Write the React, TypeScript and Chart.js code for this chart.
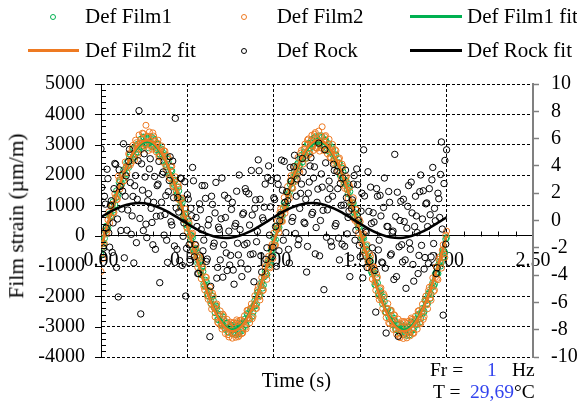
import React, { useEffect, useRef } from 'react';
import { Chart, registerables } from 'chart.js';

Chart.register(...registerables);

// ---- data (strain in µm/m, time in s) ----
const SAMPLE_INTERVAL_S = 0.005; // acquisition interval of the measured series
const FIT_INTERVAL_S = 0.05; // interval of the fitted curve samples

const defFilm1: number[] = [
  -620, -182, -380, -257, -90, 157, 310, 202, 260, 675, 720, 636, 650, 995, 1120, 850, 1010, 1251, 1480, 1287,
  1390, 1748, 1820, 1673, 1700, 1990, 2150, 1900, 2030, 2242, 2410, 2315, 2250, 2590, 2690, 2464, 2540, 2868, 2880, 2582,
  2700, 2955, 3010, 2757, 2850, 3037, 3180, 2935, 2960, 3252, 3240, 3046, 3010, 3228, 3190, 2898, 3050, 3106, 3260, 2942,
  2930, 3195, 3150, 2907, 2840, 3007, 3020, 2695, 2690, 2812, 2860, 2658, 2480, 2704, 2640, 2350, 2280, 2525, 2420, 2012,
  1990, 2160, 2130, 1740, 1690, 1803, 1830, 1488, 1350, 1597, 1480, 1191, 990, 1180, 1100, 665, 620, 696, 730, 365,
  240, 462, 330, 27, -140, -7, -60, -442, -520, -435, -430, -686, -920, -725, -820, -1150, -1290, -1031, -1180, -1587,
  -1650, -1468, -1520, -1903, -1980, -1840, -1840, -2140, -2270, -2002, -2130, -2365, -2540, -2320, -2380, -2764, -2760, -2648, -2590, -2882,
  -2950, -2675, -2770, -2987, -3090, -2887, -2880, -3175, -3180, -3012, -2960, -3096, -3230, -2958, -3010, -3198, -3270, -2886, -2990, -3242,
  -3170, -2915, -2890, -3137, -3080, -2857, -2760, -2935, -2950, -2572, -2600, -2708, -2760, -2434, -2390, -2650, -2520, -2305, -2140, -2312,
  -2260, -1880, -1850, -1970, -1960, -1653, -1530, -1728, -1630, -1357, -1190, -1241, -1280, -910, -820, -965, -900, -476, -450, -665,
  -70, -227, -130, 177, 330, 252, 270, 645, 710, 486, 660, 895, 1090, 950, 1030, 1441, 1460, 1347, 1420, 1698,
  1800, 1573, 1740, 1940, 2110, 1970, 2060, 2342, 2390, 2305, 2310, 2550, 2650, 2424, 2560, 2738, 2860, 2552, 2750, 3025,
  3030, 2787, 2900, 3057, 3170, 2985, 3010, 3222, 3260, 2896, 3080, 3128, 3290, 2998, 3060, 3296, 3240, 3002, 2980, 3145,
  3160, 2807, 2870, 2957, 3030, 2765, 2720, 2912, 2850, 2648, 2510, 2664, 2660, 2310, 2290, 2395, 2400, 1982, 2010, 2230,
  2110, 1770, 1720, 1823, 1790, 1538, 1380, 1567, 1450, 1041, 1020, 1080, 1070, 765, 650, 886, 700, 425, 270, 412,
  300, -73, -110, -57, -90, -372, -490, -335, -460, -696, -890, -765, -850, -1190, -1260, -1161, -1220, -1617, -1620, -1398,
  -1560, -1873, -1950, -1820, -1880, -2090, -2250, -2032, -2170, -2515, -2530, -2420, -2420, -2664, -2740, -2458, -2630, -2822, -2940, -2725,
  -2810, -3087, -3100, -2937, -2920, -3105, -3210, -2912, -3000, -3106, -3260, -2998, -3030, -3238, -3290, -3016, -3010, -3272, -3190, -2845,
  -2900, -3107, -3060, -2837, -2780, -2885, -2930, -2602, -2610, -2858, -2740, -2534, -2400, -2550, -2500, -2115, -2150, -2252, -2240, -1930,
  -1870, -2070, -1930, -1703, -1550, -1658, -1600, -1257, -1210, -1251, -1250, -950, -850, -1005, -880, -606, -470, -695, -560, -112,
  -60,
];

const defFilm2: number[] = [
  -1180, -72, -750, -347, -260, 187, 80, 112, 520, 785, 420, 616, 980, 1035, 760, 760, 1380, 1271, 1190, 1197,
  1960, 1838, 1540, 1623, 2010, 2040, 1800, 1810, 2430, 2272, 2080, 2295, 2700, 2680, 2330, 2404, 2870, 2978, 2590, 2492,
  3150, 3065, 2720, 2667, 3320, 3067, 3050, 2845, 3380, 3362, 2960, 3026, 3640, 3268, 3280, 2808, 3420, 3126, 2950, 2852,
  3390, 3285, 3130, 2857, 2760, 3057, 3150, 2605, 2620, 2842, 2960, 2638, 2420, 2794, 2790, 2290, 2170, 2635, 2550, 1922,
  1880, 2270, 2290, 1650, 1610, 1833, 1940, 1398, 1230, 1707, 1610, 1171, 930, 1220, 1240, 575, 520, 716, 880, 275,
  130, 552, 420, -23, -260, 43, 80, -532, -640, -405, -320, -706, -1050, -635, -700, -1210, -1420, -921, -1050, -1677,
  -1790, -1358, -1380, -1993, -2100, -1810, -1700, -2230, -2420, -1892, -1990, -2385, -2680, -2280, -2250, -2854, -2890, -2628, -2480, -2972,
  -3080, -2585, -2640, -3037, -3230, -2837, -2760, -3265, -3340, -2982, -2850, -3116, -3380, -2868, -2880, -3258, -3350, -2776, -2830, -3332,
  -3290, -2805, -2780, -3227, -3210, -2827, -2640, -3025, -3070, -2462, -2460, -2728, -2880, -2394, -2250, -2740, -2660, -2285, -1980, -2402,
  -2400, -1790, -1690, -2020, -2120, -1603, -1380, -1818, -1790, -1327, -1020, -1261, -1440, -820, -680, -1025, -1060, -366, -290, -755,
  90, -337, -310, 247, 480, 222, 110, 765, 890, 476, 470, 925, 1260, 740, 880, 1421, 1620, 1317, 1230, 1818,
  1980, 1593, 1560, 2010, 2290, 1790, 1850, 2222, 2580, 2145, 2090, 2720, 2810, 2524, 2360, 2868, 3020, 2642, 2550, 3155,
  3190, 2677, 2700, 3127, 3310, 2955, 2810, 3342, 3400, 2886, 2880, 3158, 3450, 2788, 2900, 3276, 3590, 2972, 2810, 3265,
  3300, 2827, 2700, 3027, 3180, 2585, 2560, 2792, 3010, 2488, 2380, 2834, 2800, 2410, 2120, 2525, 2560, 2072, 1870, 2360,
  2280, 1660, 1560, 1893, 1950, 1508, 1240, 1687, 1600, 1031, 860, 1110, 1250, 555, 500, 866, 850, 395, 90, 532,
  460, -53, -270, 13, 60, -552, -650, -455, -300, -856, -1060, -595, -680, -1090, -1430, -1031, -1030, -1527, -1800, -1268,
  -1370, -1983, -2110, -1750, -1720, -2120, -2400, -1912, -1980, -2525, -2700, -2390, -2240, -2874, -2900, -2478, -2460, -2852, -3090, -2605,
  -2630, -3067, -3250, -2867, -2750, -3285, -3360, -3032, -2830, -3266, -3390, -2828, -2860, -3138, -3370, -2886, -2820, -3182, -3300, -2715,
  -2760, -3217, -3220, -2767, -2650, -2915, -3080, -2482, -2470, -2868, -2900, -2504, -2260, -2760, -2670, -2135, -1990, -2282, -2410, -1810,
  -1700, -2050, -2130, -1633, -1390, -1838, -1800, -1377, -1030, -1411, -1450, -780, -700, -905, -1070, -476, -300, -605, -720, 18,
  150,
];

const defRock: number[] = [
  2860, 1590, -620, -410, 1300, 1040, 250, 2190, 1880, 90, -380, 1000, 1150, -550, 420, 1550, 2380, 2350, -1050, 550,
  -2020, 2170, 1620, 170, 880, 1470, 3030, -730, 1300, 1970, 180, 845, 2450, 2845, 1750, 45, 650, 1295, -900, 1645,
  1980, -232, 1200, 2468, 4120, 568, -2580, 2368, 1500, 168, 2700, 1935, 380, -65, 1150, 1385, 2200, 2535, 900, 435,
  -300, 1100, 1950, -450, 640, 1650, 1700, 2450, -1550, 650, 1100, 2020, 2100, 20, 700, 1320, -150, -880, 1450, 1820,
  2600, 460, 350, 2460, 1250, -340, 3870, 910, -450, 1260, 780, -820, 1900, 1880, -980, -20, 420, 1780, -1990, -420,
  1350, 1208, -300, -792, 900, 658, 2250, 1808, -700, -292, 600, 302, -1250, -1248, 1050, 852, 200, 1652, -500, -148,
  1650, 1230, -850, -770, 350, 530, -3330, -1670, 1300, 1030, -350, -245, 750, 1755, -1400, -1045, 280, 205, -800, 555,
  1900, -1368, -300, 1332, 600, -568, -1150, 1232, 150, -968, -650, 865, 1100, -1135, -1600, 315, 400, 1465, -250, -635,
  2000, 200, -900, -1350, 700, 750, -300, 1550, 1450, -250, -1100, 1380, 350, -620, 2150, 680, -600, -1520, 900, 1180,
  -200, 140, 2500, 2140, 1200, -660, -1200, 590, 500, 940, 1700, -782, -400, 1918, 2300, 18, 950, 1818, -700, -382,
  1250, 1190, 300, -1010, 1900, 1690, -500, 490, 700, 2490, 1500, -150, 2450, 1100, 100, 1450, 1150, -450, -900, 2250,
  1800, 470, 600, 2270, 2650, 70, 1300, 1870, -300, -130, 900, 1395, 1700, 2545, 2100, 445, 400, 1195, -1200, -355,
  1400, 1768, 2300, 2568, 700, 768, 1900, 2268, -600, 268, 1100, 1535, 3050, -665, 500, 2035, 1600, 835, -1780, 2835,
  2400, -50, 850, 1200, 1800, 1550, -200, -350, 1300, 2350, 2150, 320, 400, 2120, 1550, -80, -800, 1720, 1000, -280,
  1900, 1010, -350, 2160, 1250, 60, 600, 810, -1350, -740, 900, 1180, 1700, 1980, -150, 180, 2200, 1680, 500, -320,
  -700, 808, 1400, -1392, 2830, 1308, 150, 108, -1050, 2108, 800, -848, 1600, 402, -400, 752, 450, -1148, -2520, 1552,
  1300, -470, -150, 1330, 650, -870, -900, 930, 1900, -1070, -3210, 305, 300, 1455, 1100, -645, -600, 105, 150, -1445,
  2680, 632, -1350, 1432, -3320, -368, 500, 1132, -300, -868, 1200, 465, -800, -1735, 250, 965, 1650, -235, -450, 1765,
  750, -950, -1500, 300, 1300, 650, 100, -1250, -650, 1450, 2000, -320, 550, 1480, -1100, -720, 1050, 1080, 300, -920,
  1550, 690, -700, 1840, 2250, -260, 900, 490, -1250, -1060, 1400, 1218, 600, 2018, 3090, 218, -2620, 1718, 2480, -282,
  2830,
];

const defFilm1Fit: number[] = [
  -392, 586, 1507, 2278, 2821, 3081, 3034, 2685, 2067, 1242,
  296, -682, -1592, -2345, -2860, -3090, -3013, -2635, -1993, -1151,
  -195, 586, 1675, 2405, 2896, 3097, 2989, 2582, 1917, 1060,
  97, -875, -1755, -2465, -2930, -3100, -2960, -2524, -1840, -968,
  0,
];

const defFilm2Fit: number[] = [
  -398, 595, 1531, 2315, 2866, 3130, 3083, 2728, 2100, 1262,
  301, -693, -1618, -2383, -2906, -3140, -3061, -2677, -2025, -1170,
  -198, 595, 1702, 2444, 2942, 3147, 3037, 2623, 1948, 1077,
  99, -889, -1783, -2505, -2977, -3150, -3007, -2564, -1869, -984,
  0,
];

const defRockFit: number[] = [
  608, 777, 919, 1020, 1070, 1065, 1004, 894, 745, 572,
  392, 223, 81, -20, -70, -65, -4, 106, 255, 428,
  608, 777, 919, 1020, 1070, 1065, 1004, 894, 745, 572,
  392, 223, 81, -20, -70, -65, -4, 106, 255, 428,
  608,
];

const seriesNames = ['Def Film1', 'Def Film2', 'Def Film1 fit', 'Def Film2 fit', 'Def Rock', 'Def Rock fit'];

const frequencyHz = '1';
const temperatureC = '29,69';

// ---- styling ----
const SERIF = '"Liberation Serif", "Times New Roman", serif';
const GREEN = '#00b050';
const ORANGE = '#ee7a22';
const BLACK = '#000000';
const BLUE = '#3344ee';

const toPoints = (values: number[], step: number) =>
  values.map((v, i) => ({ x: Math.round(i * step * 10000) / 10000, y: v }));

const minorTicksPlugin = {
  id: 'minorTicks',
  afterDraw(chart: any) {
    const { ctx, chartArea, scales } = chart;
    const xs = scales.x;
    const ys = scales.y;
    ctx.save();
    ctx.strokeStyle = '#000';
    ctx.lineWidth = 1;
    ctx.setLineDash([]);
    const lx = Math.round(chartArea.left);
    for (let k = -20; k <= 25; k++) {
      const py = Math.round(ys.getPixelForValue(k * 200)) + 0.5;
      ctx.beginPath();
      if (k % 5 === 0) {
        ctx.moveTo(lx - 6, py);
        ctx.lineTo(lx, py);
      } else {
        ctx.moveTo(lx, py);
        ctx.lineTo(lx + 5, py);
      }
      ctx.stroke();
    }
    const y0 = Math.round(ys.getPixelForValue(0)) + 0.5;
    for (let k = 1; k < 25; k++) {
      if (k % 5 === 0) continue;
      const px = Math.round(xs.getPixelForValue(k / 10)) + 0.5;
      ctx.beginPath();
      ctx.moveTo(px, y0);
      ctx.lineTo(px, y0 - 5);
      ctx.stroke();
    }
    ctx.restore();
  },
};

const Txt = (p: { x: number; y: number; size: number; color?: string; children: React.ReactNode }) => (
  <div
    style={{
      position: 'absolute',
      left: p.x,
      top: p.y - 0.8375 * p.size,
      fontSize: p.size,
      lineHeight: 1,
      color: p.color || '#000',
      whiteSpace: 'nowrap',
      fontFamily: SERIF,
    }}
  >
    {p.children}
  </div>
);

const Marker = (p: { cx: number; cy: number; color: string }) => (
  <div
    style={{
      position: 'absolute',
      left: p.cx - 3,
      top: p.cy - 3,
      width: 6,
      height: 6,
      boxSizing: 'border-box',
      border: `1px solid ${p.color}`,
      borderRadius: '50%',
    }}
  />
);

const LineKey = (p: { x1: number; x2: number; cy: number; color: string }) => (
  <div
    style={{
      position: 'absolute',
      left: p.x1,
      top: p.cy - 1.25,
      width: p.x2 - p.x1,
      height: 2.5,
      background: p.color,
    }}
  />
);

export default function App() {
  const ref = useRef<HTMLCanvasElement>(null);

  useEffect(() => {
    if (!ref.current) return;
    const tickFont = { family: SERIF, size: 20 };
    const scatterPt = (color: string) => ({
      borderColor: color,
      backgroundColor: 'rgba(0,0,0,0)',
      pointRadius: 3,
      pointBorderWidth: 1,
      pointHoverRadius: 3,
      showLine: false,
    });
    const fitLine = (color: string) => ({
      borderColor: color,
      backgroundColor: color,
      borderWidth: 2.5,
      pointRadius: 0,
      showLine: true,
      tension: 0.4,
      fill: false,
    });

    const chart = new Chart(ref.current, {
      type: 'scatter',
      data: {
        datasets: [
          { label: seriesNames[0], data: toPoints(defFilm1, SAMPLE_INTERVAL_S), order: 6, ...scatterPt(GREEN) },
          { label: seriesNames[1], data: toPoints(defFilm2, SAMPLE_INTERVAL_S), order: 5, ...scatterPt(ORANGE) },
          { label: seriesNames[2], data: toPoints(defFilm1Fit, FIT_INTERVAL_S), order: 4, ...fitLine(GREEN) },
          { label: seriesNames[3], data: toPoints(defFilm2Fit, FIT_INTERVAL_S), order: 3, ...fitLine(ORANGE) },
          { label: seriesNames[4], data: toPoints(defRock, SAMPLE_INTERVAL_S), order: 2, ...scatterPt(BLACK), pointRadius: 3.2 },
          { label: seriesNames[5], data: toPoints(defRockFit, FIT_INTERVAL_S), order: 1, ...fitLine(BLACK) },
        ] as any,
      },
      options: {
        responsive: false,
        maintainAspectRatio: false,
        devicePixelRatio: 1,
        animation: false,
        events: [],
        layout: { padding: { top: 84, left: 0, right: 0, bottom: 50 } },
        plugins: { legend: { display: false }, tooltip: { enabled: false }, title: { display: false } },
        scales: {
          x: {
            type: 'linear',
            position: { y: 0 } as any,
            min: 0,
            max: 2.5,
            ticks: {
              stepSize: 0.5,
              font: tickFont,
              color: '#000',
              padding: 13,
              maxRotation: 0,
              callback: (v: any) => Number(v).toFixed(2),
            },
            grid: {
              drawTicks: false,
              lineWidth: 1,
              color: (c: any) =>
                c.tick && (Math.abs(c.tick.value) < 1e-9 || Math.abs(c.tick.value - 2.5) < 1e-9) ? 'rgba(0,0,0,0)' : '#000',
              borderDash: [3, 2],
            } as any,
            border: { display: true, color: '#000', width: 1, dash: [3, 2] } as any,
          },
          y: {
            type: 'linear',
            position: 'left',
            min: -4000,
            max: 5000,
            ticks: { stepSize: 1000, font: tickFont, color: '#000', padding: 16, callback: (v: any) => String(v) },
            grid: {
              drawTicks: false,
              lineWidth: 1,
              color: (c: any) => (c.tick && c.tick.value === 0 ? 'rgba(0,0,0,0)' : '#000'),
              borderDash: [3, 2],
            } as any,
            border: { display: true, color: '#000', width: 1, dash: [3, 2] } as any,
            afterFit: (s: any) => {
              s.width = 101;
            },
          },
          y1: {
            type: 'linear',
            position: 'right',
            min: -10,
            max: 10,
            ticks: { stepSize: 2, font: tickFont, color: '#000', padding: 12, callback: (v: any) => String(v) },
            grid: {
              drawOnChartArea: false,
              drawTicks: true,
              tickLength: 6,
              color: '#808080',
              tickColor: '#808080',
              tickWidth: 1.5,
            },
            border: { display: true, color: '#808080', width: 2 },
            afterFit: (s: any) => {
              s.width = 44;
            },
          },
        },
      } as any,
      plugins: [minorTicksPlugin],
    });
    return () => chart.destroy();
  }, []);

  return (
    <div
      style={{
        position: 'fixed',
        left: 0,
        top: 0,
        width: 577,
        height: 407,
        background: '#fff',
        overflow: 'hidden',
        fontFamily: SERIF,
      }}
    >
      <canvas ref={ref} width={577} height={407} style={{ position: 'absolute', left: 0, top: 0, width: 577, height: 407 }} />

      {/* legend */}
      <Marker cx={52.8} cy={16.5} color={GREEN} />
      <Txt x={85} y={23.3} size={21}>{seriesNames[0]}</Txt>
      <Marker cx={243.5} cy={16.5} color={ORANGE} />
      <Txt x={276.7} y={23.3} size={21}>{seriesNames[1]}</Txt>
      <LineKey x1={410} x2={462} cy={16.5} color={GREEN} />
      <Txt x={467} y={23.3} size={21}>{seriesNames[2]}</Txt>

      <LineKey x1={28} x2={79} cy={50.5} color={ORANGE} />
      <Txt x={85} y={57.3} size={21}>{seriesNames[3]}</Txt>
      <Marker cx={243.5} cy={50.5} color={BLACK} />
      <Txt x={276.7} y={57.3} size={21}>{seriesNames[4]}</Txt>
      <LineKey x1={410} x2={462} cy={50.5} color={BLACK} />
      <Txt x={467} y={57.3} size={21}>{seriesNames[5]}</Txt>

      {/* axis titles */}
      <div
        style={{
          position: 'absolute',
          left: 17,
          top: 215.5,
          transform: 'translate(-50%, -50%) rotate(-90deg)',
          fontSize: 21.5,
          lineHeight: 1,
          whiteSpace: 'nowrap',
          fontFamily: SERIF,
          color: '#000',
        }}
      >
        Film strain (µm/m)
      </div>
      <Txt x={261.7} y={386.7} size={20.5}>Time (s)</Txt>

      {/* annotations */}
      <Txt x={430} y={376.7} size={19.5}>Fr =</Txt>
      <Txt x={487} y={376.7} size={19.5} color={BLUE}>{frequencyHz}</Txt>
      <Txt x={512} y={376.7} size={19.5}>Hz</Txt>
      <Txt x={433} y={398.3} size={19.5}>T =</Txt>
      <Txt x={470} y={398.3} size={19.5} color={BLUE}>{temperatureC}</Txt>
      <Txt x={514} y={398.3} size={19.5}>°C</Txt>
    </div>
  );
}
